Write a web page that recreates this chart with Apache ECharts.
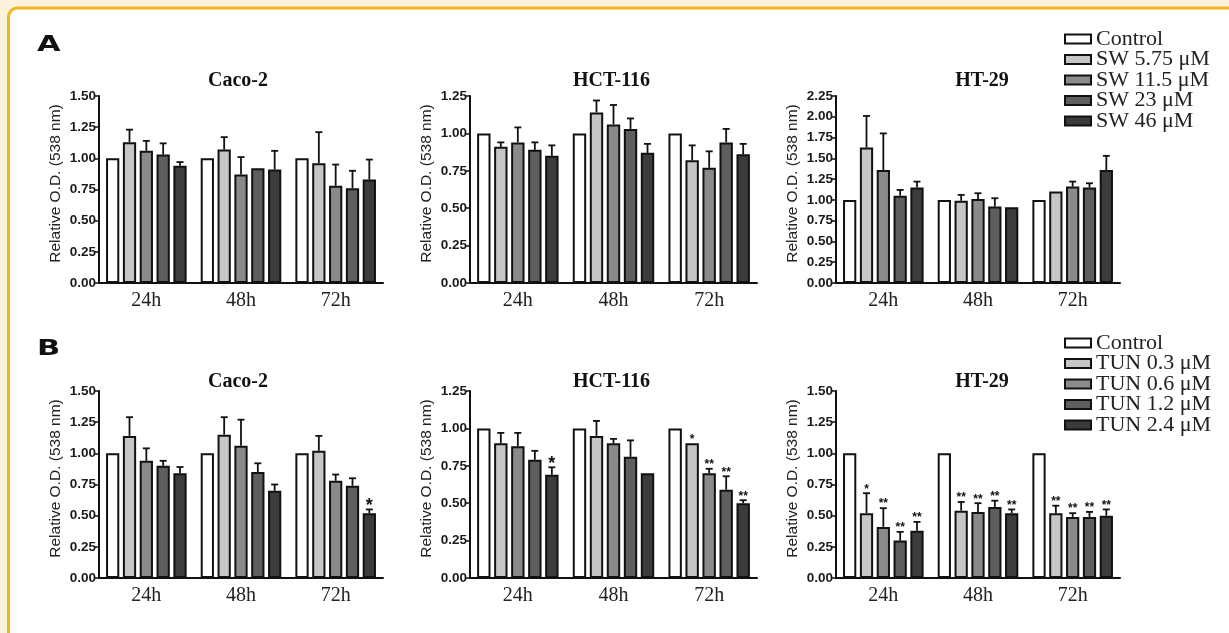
<!DOCTYPE html>
<html>
<head>
<meta charset="utf-8">
<script src="https://cdn.jsdelivr.net/npm/echarts@6/dist/echarts.min.js"></script>
<style>
  html, body { margin: 0; padding: 0; background: #fff; }
  #chart { width: 1229px; height: 633px; }
</style>
</head>
<body>
<div id="chart"></div>
<script>
/** categories and series names */
const times = ["24h", "48h", "72h"];
const swNames = ["Control", "SW 5.75 μM", "SW 11.5 μM", "SW 23 μM", "SW 46 μM"];
const tunNames = ["Control", "TUN 0.3 μM", "TUN 0.6 μM", "TUN 1.2 μM", "TUN 2.4 μM"];

/** A: SW treatment, rows = treatment, cols = 24h/48h/72h */
const cacoSW = [[1.00, 1.00, 1.00], [1.13, 1.07, 0.96], [1.06, 0.87, 0.78], [1.03, 0.92, 0.76], [0.94, 0.91, 0.83]];
const cacoSWErr = [[1.00, 1.00, 1.00], [1.23, 1.17, 1.21], [1.14, 1.01, 0.95], [1.12, 0.93, 0.90], [0.97, 1.06, 0.99]];
const hctSW = [[1.00, 1.00, 1.00], [0.91, 1.14, 0.82], [0.94, 1.06, 0.77], [0.89, 1.03, 0.94], [0.85, 0.87, 0.86]];
const hctSWErr = [[1.00, 1.00, 1.00], [0.94, 1.22, 0.92], [1.04, 1.19, 0.88], [0.94, 1.10, 1.03], [0.92, 0.93, 0.93]];
const htSW = [[1.00, 1.00, 1.00], [1.63, 0.99, 1.10], [1.36, 1.01, 1.16], [1.05, 0.92, 1.15], [1.15, 0.91, 1.36]];
const htSWErr = [[1.00, 1.00, 1.00], [2.01, 1.06, 1.11], [1.80, 1.08, 1.22], [1.12, 1.02, 1.20], [1.22, 0.92, 1.53]];

/** B: TUN treatment */
const cacoTUN = [[1.00, 1.00, 1.00], [1.14, 1.15, 1.02], [0.94, 1.06, 0.78], [0.90, 0.85, 0.74], [0.84, 0.70, 0.52]];
const cacoTUNErr = [[1.00, 1.00, 1.00], [1.29, 1.29, 1.14], [1.04, 1.27, 0.83], [0.94, 0.92, 0.80], [0.89, 0.75, 0.55]];
const cacoTUNStars = [["", "", ""], ["", "", ""], ["", "", ""], ["", "", ""], ["", "", "*"]];
const hctTUN = [[1.00, 1.00, 1.00], [0.90, 0.95, 0.90], [0.88, 0.90, 0.70], [0.79, 0.81, 0.59], [0.69, 0.70, 0.50]];
const hctTUNErr = [[1.00, 1.00, 1.00], [0.97, 1.05, 0.90], [0.97, 0.93, 0.73], [0.85, 0.92, 0.68], [0.74, 0.70, 0.52]];
const hctTUNStars = [["", "", ""], ["", "", "*"], ["", "", "**"], ["", "", "**"], ["*", "", "**"]];
const htTUN = [[1.00, 1.00, 1.00], [0.52, 0.54, 0.52], [0.41, 0.53, 0.49], [0.30, 0.57, 0.49], [0.38, 0.52, 0.50]];
const htTUNErr = [[1.00, 1.00, 1.00], [0.68, 0.61, 0.58], [0.56, 0.60, 0.52], [0.37, 0.62, 0.53], [0.45, 0.55, 0.55]];
const htTUNStars = [["", "", ""], ["*", "**", "**"], ["**", "**", "**"], ["**", "**", "**"], ["**", "**", "**"]];

/** y axis maxima */
const yMaxA = [1.5, 1.25, 2.25];
const yMaxB = [1.5, 1.25, 1.5];

/** bar fills, control first */
const fills = ["#ffffff", "#c6c6c6", "#8a8a8a", "#5e5e5e", "#3c3c3c"];

const serif = "'Liberation Serif', 'Times New Roman', serif";
const sans = "'Liberation Sans', Arial, sans-serif";

/** layout */
const cols = [{ left: 99, width: 284, titleDx: -3 }, { left: 470, width: 287, titleDx: -2 }, { left: 836, width: 284, titleDx: 4 }];
const rows = [{ top: 96, height: 187, titleDy: -15 }, { top: 391, height: 187, titleDy: -9 }];
const titleNames = ["Caco-2", "HCT-116", "HT-29"];

const panels = [
  { row: 0, col: 0, names: swNames, vals: cacoSW, errs: cacoSWErr, stars: null, max: yMaxA[0] },
  { row: 0, col: 1, names: swNames, vals: hctSW, errs: hctSWErr, stars: null, max: yMaxA[1] },
  { row: 0, col: 2, names: swNames, vals: htSW, errs: htSWErr, stars: null, max: yMaxA[2] },
  { row: 1, col: 0, names: tunNames, vals: cacoTUN, errs: cacoTUNErr, stars: cacoTUNStars, max: yMaxB[0] },
  { row: 1, col: 1, names: tunNames, vals: hctTUN, errs: hctTUNErr, stars: hctTUNStars, max: yMaxB[1] },
  { row: 1, col: 2, names: tunNames, vals: htTUN, errs: htTUNErr, stars: htTUNStars, max: yMaxB[2] },
];

const BAR_W = 0.14; // fraction of band
const GAP = 0.27; // fraction of bar width

const grid = [], xAxis = [], yAxis = [], series = [], graphic = [];

/** frame: cream outside, orange rounded border */
graphic.push({
  type: "rect",
  shape: { x: 8.5, y: 8, width: 1300, height: 700, r: 9 },
  style: { fill: "#ffffff", stroke: "#f2b520", lineWidth: 3 },
  z: -10,
  silent: true,
});

/** panel letters */
[["A", 46], ["B", 350]].forEach(([letter, y]) => {
  graphic.push({
    type: "text",
    x: 37,
    y,
    scaleX: 1.45,
    scaleY: 1,
    style: { text: letter, x: 0, y: 0, font: "bold 21px 'DejaVu Sans', sans-serif", fill: "#111", textVerticalAlign: "middle" },
  });
});

panels.forEach((p, gi) => {
  const c = cols[p.col], r = rows[p.row];
  grid.push({ left: c.left, top: r.top, width: c.width, height: r.height });

  /** panel title */
  graphic.push({
    type: "text",
    style: {
      text: titleNames[p.col],
      x: c.left + c.width / 2 + c.titleDx,
      y: r.top + r.titleDy,
      font: "bold 20px " + serif,
      fill: "#111",
      textAlign: "center",
      textVerticalAlign: "middle",
    },
  });

  xAxis.push({
    type: "category",
    gridIndex: gi,
    data: times,
    axisLine: { lineStyle: { color: "#111", width: 2 } },
    axisTick: { alignWithLabel: true, length: 4, lineStyle: { color: "#111", width: 2 } },
    axisLabel: { color: "#222", fontFamily: serif, fontSize: 20, margin: 8 },
  });

  yAxis.push({
    type: "value",
    gridIndex: gi,
    min: 0,
    max: p.max,
    interval: 0.25,
    splitLine: { show: false },
    axisLine: { show: true, lineStyle: { color: "#111", width: 2 } },
    axisTick: { show: true, length: 4, lineStyle: { color: "#111", width: 1.5 } },
    axisLabel: {
      color: "#1a1a1a",
      fontFamily: sans,
      fontWeight: "bold",
      fontSize: 13.5,
      margin: 3,
      formatter: (v) => v.toFixed(2),
    },
    name: "Relative O.D. (538 nm)",
    nameLocation: "middle",
    nameGap: 35,
    nameTextStyle: { color: "#222", fontFamily: sans, fontSize: 15.5, padding: [0, 0, 0, 12] },
  });

  /** bars */
  p.names.forEach((name, k) => {
    series.push({
      type: "bar",
      name,
      xAxisIndex: gi,
      yAxisIndex: gi,
      barWidth: BAR_W * 100 + "%",
      barGap: GAP * 100 + "%",
      data: p.vals[k],
      itemStyle: { color: fills[k], borderColor: "#111", borderWidth: 2 },
      silent: true,
      animation: false,
    });
  });

  /** upper error bars and significance marks */
  const items = [];
  p.vals.forEach((row, k) => {
    row.forEach((v, t) => {
      items.push({ value: [t, v, p.errs[k][t], k], star: p.stars ? p.stars[k][t] : "" });
    });
  });
  series.push({
    type: "custom",
    xAxisIndex: gi,
    yAxisIndex: gi,
    z: 5,
    silent: true,
    animation: false,
    data: items.map((d) => d.value),
    renderItem: (params, api) => {
      const t = api.value(0);
      const k = api.value(3);
      const base = api.coord([t, api.value(1)]);
      const top = api.coord([t, api.value(2)]);
      const band = api.size([1, 0])[0];
      const w = band * BAR_W;
      const x = base[0] + (k - 2) * w * (1 + GAP);
      const children = [];
      if (base[1] - top[1] > 1.5) {
        children.push({
          type: "line",
          shape: { x1: x, y1: base[1], x2: x, y2: top[1] },
          style: { stroke: "#111", lineWidth: 1.8 },
        });
        children.push({
          type: "line",
          shape: { x1: x - 3.5, y1: top[1], x2: x + 3.5, y2: top[1] },
          style: { stroke: "#111", lineWidth: 1.8 },
        });
      }
      const star = items[params.dataIndex].star;
      if (star) {
        const big = star === "*" && p.stars !== htTUNStars && !(p.stars === hctTUNStars && t === 2);
        children.push({
          type: "text",
          style: {
            text: star,
            x,
            y: top[1] + (big ? 6 : 2),
            font: (big ? "bold 18px " : "bold 12px ") + sans,
            fill: "#111",
            textAlign: "center",
            textVerticalAlign: "bottom",
          },
        });
      }
      return { type: "group", children };
    },
  });
});

const legendBase = {
  orient: "vertical",
  left: 1064,
  padding: 0,
  icon: "rect",
  itemWidth: 26,
  itemHeight: 9,
  itemGap: -1.5,
  selectedMode: false,
  textStyle: { color: "#222", fontFamily: serif, fontSize: 22 },
};

const chart = echarts.init(document.getElementById("chart"));
chart.setOption({
  backgroundColor: "#fdf3dc",
  animation: false,
  grid,
  xAxis,
  yAxis,
  series,
  graphic,
  legend: [
    { ...legendBase, top: 28, data: swNames },
    { ...legendBase, top: 332, data: tunNames },
  ],
});
</script>
</body>
</html>
